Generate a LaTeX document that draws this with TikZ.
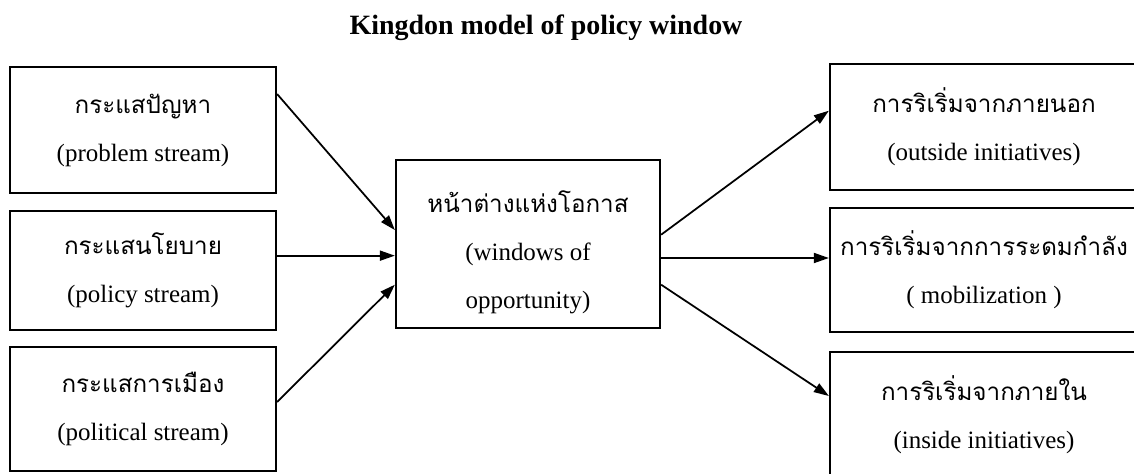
\documentclass[tikz,border=0pt]{standalone}
\usepackage{fontspec}
\setmainfont{Liberation Serif}
\newfontfamily\thaifont[Script=Thai,Scale=0.97]{Loma}
\usetikzlibrary{arrows.meta, positioning, calc}

\begin{document}
\begin{tikzpicture}[
  every node/.style={font=\fontsize{14.2}{27.3}\selectfont, align=center},
  box/.style={draw, line width=1.3pt, inner sep=0pt},
  stream box/.style={box, minimum width=5.32cm},
  init box/.style={box, minimum width=6.16cm},
  flow/.style={-{Triangle[length=0.3cm, width=0.2cm]}, line width=1pt}
]
\useasboundingbox (0,0) rectangle (22.68,-9.46);

%% title
\node[font=\fontsize{15.9}{18}\selectfont\bfseries] (title) at (10.92,-0.55)
  {Kingdon model of policy window};

%% streams (left)
\node[stream box, minimum height=2.52cm] (prob) at (2.86,-2.60)
  {{\thaifont กระแสปัญหา}\\(problem stream)};
\node[stream box, minimum height=2.38cm] (pol) at (2.86,-5.41)
  {{\thaifont กระแสนโยบาย}\\(policy stream)};
\node[stream box, minimum height=2.48cm] (polit) at (2.86,-8.18)
  {{\thaifont กระแสการเมือง}\\(political stream)};

%% window (middle)
\node[box, minimum width=5.28cm, minimum height=3.36cm] (win) at (10.56,-4.88)
  {\rule{0pt}{0.75cm}{\thaifont หน้าต่างแห่งโอกาส}\\(windows of\\opportunity)};

%% initiatives (right)
\node[init box, minimum height=2.52cm] (outs) at (19.68,-2.54)
  {{\thaifont การริเริ่มจากภายนอก}\\(outside initiatives)};
\node[init box, minimum height=2.48cm] (mob) at (19.68,-5.40)
  {{\thaifont การริเริ่มจากการระดมกำลัง}\\( mobilization )};
\node[init box, minimum height=2.52cm] (ins) at (19.68,-8.30)
  {{\thaifont การริเริ่มจากภายใน}\\(inside initiatives)};

%% streams into window
\draw[flow] (prob.15.5) -- (win.174.8);
\draw[flow] (win.185.6 -| pol.east) -- (win.185.6);
\draw[flow] (polit.3.9) -- (win.197.3);

%% window out to initiatives
\draw[flow] (win.4.8) -- (outs.174.8);
\draw[flow] (win.354.8) -- (win.354.8 -| mob.west);
\draw[flow] (win.343.9) -- (ins.173);
\end{tikzpicture}
\end{document}
